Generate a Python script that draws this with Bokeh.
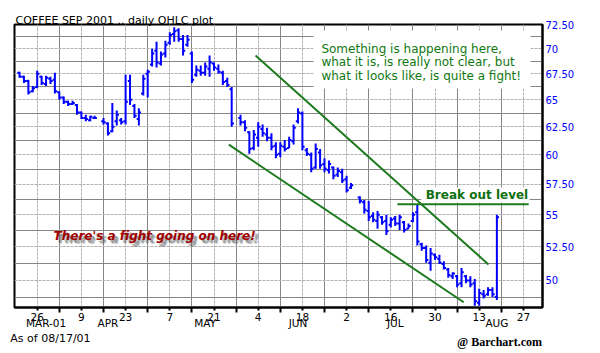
import numpy as np
import pandas as pd
from bokeh.plotting import figure
from bokeh.models import Range1d, FixedTicker, LinearAxis, Label, ColumnDataSource
from bokeh.embed import file_html
from bokeh.resources import INLINE

# ---------------- data ----------------
origin_day = "2001-03-19"          # trading-day index 0
first_day = "2001-03-20"
last_day = "2001-08-17"
holidays = ["2001-04-13", "2001-05-28", "2001-07-04"]

opens = [67.6, 67.2, 66.8, 65.8, 66.2, 67.2, 66.5, 67.0, 66.9, 65.7, 65.2, 64.8, 64.6, 64.5, 63.8, 63.3, 63.1, 63.3,
         63.0, 62.8, 62.1, 63.0, 63.1, 63.0, 66.8, 64.4, 63.2, 65.6, 67.5, 68.4, 69.8, 68.5, 69.5, 70.6, 71.5, 71.9,
         71.0, 70.4, 69.5, 67.4, 67.8, 67.6, 68.0, 68.5, 68.0, 67.6, 66.8, 66.0,
         63.3, 62.9, 62.0, 60.6, 61.5, 62.3, 61.8, 61.5, 60.8, 60.1, 60.7, 60.6, 61.2, 63.0, 63.7, 60.4, 60.0, 58.9,
         60.2, 59.2, 58.7, 58.9, 58.3, 58.5, 57.9, 57.2,
         56.4, 56.0, 55.3, 54.9, 54.5, 54.8, 54.5, 54.2, 54.7, 54.3, 54.4, 53.9, 54.5, 55.2, 52.7, 52.4, 51.3, 51.9,
         51.6, 51.2, 50.8, 50.3, 50.3, 49.8, 50.3, 50.0, 49.8, 48.4, 49.0, 49.0, 49.3, 48.8]
highs = [67.7, 67.3, 66.9, 66.3, 67.8, 67.3, 67.3, 67.2, 67.6, 65.8, 65.3, 64.9, 64.9, 64.6, 63.9, 63.6, 63.5, 63.5,
         63.3, 62.9, 64.7, 64.0, 63.3, 67.4, 67.4, 64.6, 64.2, 67.4, 67.9, 70.0, 70.7, 69.7, 70.8, 71.7, 72.2, 72.1,
         71.4, 71.4, 69.7, 68.3, 68.3, 68.6, 69.3, 68.6, 68.4, 67.8, 67.1, 66.2,
         63.6, 63.1, 62.1, 62.2, 62.9, 62.7, 62.4, 61.9, 61.1, 61.1, 61.3, 61.6, 62.7, 64.2, 63.9, 60.6, 60.2, 61.0,
         60.5, 59.7, 59.5, 59.0, 58.9, 58.8, 58.2, 57.6,
         56.5, 56.2, 56.1, 55.2, 55.3, 54.9, 55.0, 54.8, 54.9, 55.0, 54.5, 54.3, 55.2, 55.8, 52.8, 52.6, 52.4, 52.0,
         51.9, 51.4, 50.9, 50.6, 50.4, 50.9, 50.4, 50.3, 50.1, 49.4, 49.3, 49.5, 49.5, 55.0]
lows = [67.1, 66.6, 65.5, 65.7, 66.1, 66.4, 66.3, 66.5, 65.6, 65.0, 64.6, 64.4, 64.5, 63.6, 63.2, 63.0, 63.0, 63.2,
        62.7, 61.7, 62.0, 62.6, 62.7, 62.7, 64.5, 63.3, 62.6, 65.4, 65.2, 68.2, 68.1, 68.3, 69.1, 70.4, 70.7, 70.7,
        69.3, 70.2, 66.6, 67.2, 67.3, 67.3, 67.2, 67.8, 67.5, 66.4, 66.2, 62.5,
        62.6, 62.1, 60.1, 60.4, 60.7, 61.6, 61.2, 60.4, 59.7, 59.8, 60.3, 60.6, 60.9, 62.8, 60.4, 59.9, 58.5, 58.8,
        58.8, 58.5, 58.4, 57.9, 58.1, 57.6, 56.8, 57.1,
        55.9, 55.1, 54.5, 54.4, 53.9, 54.2, 53.4, 54.0, 54.1, 53.8, 53.6, 53.9, 54.4, 52.6, 52.2, 51.3, 50.7, 51.5,
        51.2, 50.8, 50.2, 50.1, 49.5, 49.5, 49.8, 49.5, 48.2, 48.2, 48.7, 48.9, 48.8, 48.6]
closes = [67.2, 66.8, 65.7, 66.1, 67.5, 66.6, 67.1, 66.8, 65.8, 65.2, 64.8, 64.6, 64.7, 63.8, 63.3, 63.2, 63.4, 63.3,
          62.9, 61.9, 62.5, 63.6, 62.9, 64.8, 65.0, 63.5, 63.8, 67.0, 67.7, 69.5, 68.6, 69.4, 70.4, 71.4, 71.8, 71.0,
          69.8, 70.9, 66.9, 67.9, 67.6, 68.2, 68.6, 68.1, 67.7, 66.7, 66.4, 62.8,
          62.9, 62.4, 60.5, 61.8, 62.5, 61.9, 61.5, 60.7, 60.0, 60.8, 60.5, 61.3, 62.4, 63.8, 60.7, 60.1, 58.8, 60.5,
          59.1, 58.8, 59.2, 58.2, 58.6, 57.8, 57.0, 57.4,
          56.1, 55.4, 54.8, 54.6, 55.0, 54.4, 53.7, 54.6, 54.3, 54.8, 53.8, 54.1, 55.0, 52.9, 52.4, 51.5, 52.0, 51.7,
          51.3, 50.9, 50.4, 50.5, 49.7, 50.6, 50.0, 49.7, 48.5, 49.1, 48.9, 49.3, 49.0, 54.8]

day_tick_dates = ["2001-03-26", "2001-04-09", "2001-04-23", "2001-05-07", "2001-05-21", "2001-06-04",
                  "2001-06-18", "2001-07-02", "2001-07-16", "2001-07-30", "2001-08-13", "2001-08-27"]
day_tick_labels = ["26", "9", "23", "7", "21", "4", "18", "2", "16", "30", "13", "27"]
week_minor_dates = ["2001-04-02", "2001-04-16", "2001-04-30", "2001-05-14", "2001-05-28", "2001-06-11",
                    "2001-06-25", "2001-07-09", "2001-07-23", "2001-08-06", "2001-08-20"]
month_label_dates = ["2001-03-28", "2001-04-17", "2001-05-17", "2001-06-15", "2001-07-17", "2001-08-17"]
month_labels = ["MAR-01", "APR", "MAY", "JUN", "JUL", "AUG"]

price_ticks = [50, 52.5, 55, 57.5, 60, 62.5, 65, 67.5, 70, 72.5]
price_labels = ["50", "52.50", "55", "57.50", "60", "62.50", "65", "67.50", "70", "72.50"]
price_minor = [48.75, 51.25, 53.75, 56.25, 58.75, 61.25, 63.75, 66.25, 68.75, 71.25]

# drawn annotations (trading-day index, price)
upper_channel_x = [54.4, 107.1]
upper_channel_y = [69.3, 51.17]
lower_channel_x = [48.35, 101.5]
lower_channel_y = [60.89, 48.44]
breakout_x = [86.5, 116.2]
breakout_level = 55.85

note_lines = ["Something is happening here,",
              "what it is, is really not clear, but",
              "what it looks like, is quite a fight!"]
fight_text = "There's a fight going on here!"
title_text = "COFFEE SEP 2001 .. daily OHLC plot"
asof_text = "As of 08/17/01"
credit_text = "@ Barchart.com"
asof_center_x = 8.0       # trading-day index under the footer texts
credit_center_x = 109.6

# ---------------- helpers ----------------
def tday(d):
    return int(np.busday_count(np.datetime64(origin_day), np.datetime64(d)))

dates = pd.bdate_range(first_day, last_day)
dates = dates[~dates.isin(pd.to_datetime(holidays))]
xs = np.array([tday(d.strftime("%Y-%m-%d")) for d in dates], dtype=float)
assert len(xs) == len(opens) == len(highs) == len(lows) == len(closes)

half = 0.5
src = ColumnDataSource(dict(x=xs, xl=xs - half, xr=xs + half,
                            o=opens, h=highs, l=lows, c=closes))

p = figure(width=600, height=353, output_backend="svg", toolbar_location=None,
           y_axis_type="log", y_axis_location="right",
           x_range=Range1d(-0.136, 119.32), y_range=Range1d(48.07, 72.5),
           min_border_left=14, min_border_right=58, min_border_top=24, min_border_bottom=46,
           background_fill_color="white", border_fill_color="white")
p.outline_line_color = "black"
p.outline_line_width = 2

# title
p.title.text = title_text
p.title.align = "left"
p.title.text_font = "DejaVu Sans"
p.title.text_font_size = "11px"
p.title.text_font_style = "normal"
p.title.text_color = "black"
p.title.offset = 1
p.title.standoff = -4

# x axis: day numbers
day_pos = [tday(d) for d in day_tick_dates]
minor_pos = [tday(d) for d in week_minor_dates]
xax = p.xaxis[0]
xax.ticker = FixedTicker(ticks=day_pos, minor_ticks=minor_pos)
xax.major_label_overrides = {pos: lab for pos, lab in zip(day_pos, day_tick_labels)}
xax.axis_line_color = "black"
xax.axis_line_width = 2
xax.major_tick_in = 0
xax.major_tick_out = 3
xax.minor_tick_in = 0
xax.minor_tick_out = 5
xax.major_tick_line_color = "black"
xax.minor_tick_line_color = "black"
xax.major_tick_line_width = 2
xax.minor_tick_line_width = 2
xax.major_label_standoff = 0
xax.major_label_text_font = "DejaVu Sans"
xax.major_label_text_font_size = "10.5px"
xax.major_label_text_color = "black"


def text_row(ticks, labels, standoff, font, size, style):
    return LinearAxis(ticker=FixedTicker(ticks=ticks, minor_ticks=[]),
                      major_label_overrides={t: lab for t, lab in zip(ticks, labels)},
                      axis_line_color=None, major_tick_line_color=None, minor_tick_line_color=None,
                      major_tick_in=0, major_tick_out=0, minor_tick_in=0, minor_tick_out=0,
                      major_label_standoff=standoff, major_label_text_font=font,
                      major_label_text_font_size=size, major_label_text_font_style=style,
                      major_label_text_color="black")

# second row: month names
month_pos = [tday(d) for d in month_label_dates]
p.add_layout(text_row(month_pos, month_labels, -7, "DejaVu Sans", "10.5px", "normal"), "below")
# footer row: "As of" and credit (credit pulled up into the same row)
p.add_layout(text_row([asof_center_x], [asof_text], 0, "DejaVu Sans", "11px", "normal"), "below")
p.add_layout(text_row([credit_center_x], [credit_text], -13, "Liberation Serif", "12px", "bold"), "below")

# y axis (right, log)
yax = p.yaxis[0]
yax.ticker = FixedTicker(ticks=price_ticks, minor_ticks=price_minor)
yax.major_label_overrides = {t: lab for t, lab in zip(price_ticks, price_labels)}
yax.axis_line_color = "black"
yax.axis_line_width = 2
yax.major_tick_in = 0
yax.major_tick_out = 0
yax.minor_tick_in = 0
yax.minor_tick_out = 0
yax.major_label_standoff = 3
yax.major_label_text_font = "DejaVu Sans"
yax.major_label_text_font_size = "10px"
yax.major_label_text_color = "#0000ff"

# grids: labeled lines light & dashed, unlabeled lines darker
for g in (p.xgrid[0], p.ygrid[0]):
    g.grid_line_color = "#b0b0b0"
    g.grid_line_dash = "3 1"
    g.grid_line_width = 1
    g.minor_grid_line_color = "#868686"
    g.minor_grid_line_width = 1
p.xgrid[0].ticker = xax.ticker
p.ygrid[0].ticker = yax.ticker

# white boxes behind the notes
p.quad(left=67.5, right=116.6, bottom=66.07, top=71.87, fill_color="white", line_color=None)
p.quad(left=91.9, right=116.4, bottom=55.99, top=57.22, fill_color="white", line_color=None)

# OHLC bars
bar_color = "#0000ff"
p.segment(x0="x", y0="l", x1="x", y1="h", source=src, line_color=bar_color, line_width=2)
p.segment(x0="xl", y0="o", x1="x", y1="o", source=src, line_color=bar_color, line_width=2)
p.segment(x0="x", y0="c", x1="xr", y1="c", source=src, line_color=bar_color, line_width=2)

# channel and breakout lines
green = "#1e7a1e"
p.line(upper_channel_x, upper_channel_y, line_color=green, line_width=2)
p.line(lower_channel_x, lower_channel_y, line_color=green, line_width=2)
p.line(breakout_x, [breakout_level, breakout_level], line_color=green, line_width=2)

# texts inside the frame
note_y = [69.99, 68.64, 67.23]
for line, yy in zip(note_lines, note_y):
    p.add_layout(Label(x=69.3, y=yy, text=line, text_font="DejaVu Sans", text_font_size="12px",
                       text_color="#107810", text_baseline="middle", text_align="left"))

p.add_layout(Label(x=92.9, y=56.56, text="Break out level", text_font="DejaVu Sans",
                   text_font_size="12px", text_font_style="bold", text_color="#0e700e",
                   text_baseline="middle", text_align="left"))

for dx, dy, a in [(2, -2, 0.25), (3, -3, 0.3), (4, -4, 0.2), (3, -4, 0.15), (4, -3, 0.15)]:
    p.add_layout(Label(x=8.7, y=53.30, text=fight_text, text_font="DejaVu Sans", text_font_size="12px",
                       text_font_style="bold italic", text_color="#555555", text_alpha=a,
                       text_baseline="middle", text_align="left", x_offset=dx, y_offset=dy))
p.add_layout(Label(x=8.7, y=53.30, text=fight_text, text_font="DejaVu Sans", text_font_size="12px",
                   text_font_style="bold italic", text_color="#a00000",
                   text_baseline="middle", text_align="left"))

open("out.html", "w").write(file_html(p, INLINE))
